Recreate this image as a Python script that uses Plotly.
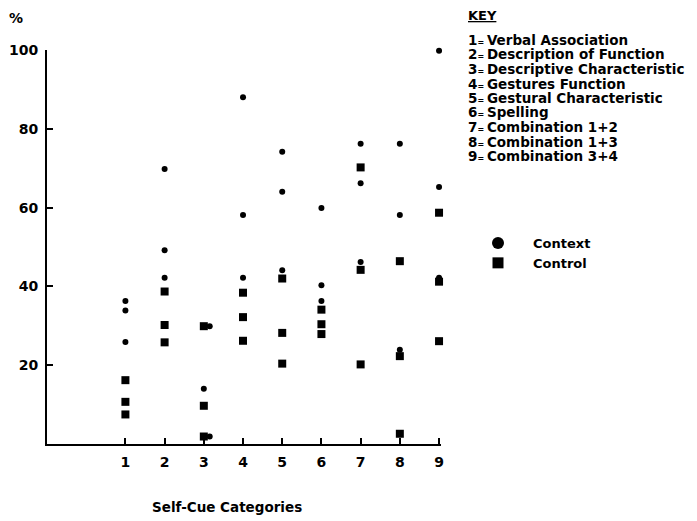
import plotly.graph_objects as go

# ---- data ----
categories = [1, 2, 3, 4, 5, 6, 7, 8, 9]
context_x = [1, 1, 1, 2, 2, 2, 3.15, 3, 3.15, 4, 4, 4, 5, 5, 5, 6, 6, 6, 7, 7, 7, 8, 8, 8, 9, 9, 9]
context_y = [36.3, 33.9, 25.9, 69.8, 49.2, 42.2, 29.9, 14.0, 1.9, 88.0, 58.1, 42.2,
             74.2, 64.0, 44.1, 59.9, 40.3, 36.3, 76.2, 66.2, 46.2, 76.2, 58.1, 23.9,
             99.8, 65.2, 42.2]
control_x = [1, 1, 1, 2, 2, 2, 3, 3, 3, 4, 4, 4, 5, 5, 5, 6, 6, 6, 7, 7, 7, 8, 8, 8, 9, 9, 9]
control_y = [16.2, 10.7, 7.5, 38.7, 30.2, 25.8, 29.9, 9.7, 1.9, 38.4, 32.2, 26.2,
             42.0, 28.2, 20.4, 34.1, 30.4, 27.9, 70.2, 44.2, 20.2, 46.4, 22.3, 2.6,
             58.7, 41.2, 26.1]
y_ticks = [20, 40, 60, 80, 100]
key_labels = ["Verbal Association", "Description of Function", "Descriptive Characteristic",
              "Gestures Function", "Gestural Characteristic", "Spelling",
              "Combination 1+2", "Combination 1+3", "Combination 3+4"]
series_names = ["Context", "Control"]

FONT = "DejaVu Sans"
PW = 394.0  # plot width/height in px
# page body has an 8px margin; the figure is sized so the picture matches
W, H = 689, 513
L, T = 39, 42
R, B = W - (L + 394), H - (T + 394)

def px_x(x):  # picture px -> paper
    return (x - 47) / PW

def px_y(y):
    return (444 - y) / PW

fig = go.Figure()
fig.add_trace(go.Scatter(x=context_x, y=context_y, mode="markers", showlegend=False,
                         marker=dict(symbol="circle", size=6, color="black"), cliponaxis=False))
fig.add_trace(go.Scatter(x=control_x, y=control_y, mode="markers", showlegend=False,
                         marker=dict(symbol="square", size=8, color="black"), cliponaxis=False))
# legend entries
fig.add_trace(go.Scatter(x=[None], y=[None], mode="markers", name=series_names[0],
                         marker=dict(symbol="circle", size=12, color="black")))
fig.add_trace(go.Scatter(x=[None], y=[None], mode="markers", name=series_names[1],
                         marker=dict(symbol="square", size=11, color="black")))

ann = []
ann.append(dict(text="<u>KEY</u>", xref="paper", yref="paper", x=px_x(466), y=px_y(15),
                xanchor="left", yanchor="middle", showarrow=False,
                font=dict(family=FONT, size=13, color="black", weight="bold")))
for i, lab in enumerate(key_labels):
    ann.append(dict(text=f"{categories[i]}<span style='font-size:8px'>= </span>{lab}",
                    xref="paper", yref="paper", x=px_x(466), y=px_y(40 + 14.5 * i),
                    xanchor="left", yanchor="middle", showarrow=False,
                    font=dict(family=FONT, size=13.5, color="black", weight="bold")))
ann.append(dict(text="%", xref="paper", yref="paper", x=px_x(16), y=px_y(18),
                xanchor="center", yanchor="middle", showarrow=False,
                font=dict(family=FONT, size=14, color="black", weight="bold")))
ann.append(dict(text="Self-Cue Categories", xref="paper", yref="paper", x=px_x(227), y=px_y(507),
                xanchor="center", yanchor="middle", showarrow=False,
                font=dict(family=FONT, size=13.5, color="black", weight="bold")))

fig.update_layout(
    width=W, height=H,
    margin=dict(l=L, r=R, t=T, b=B),
    paper_bgcolor="white", plot_bgcolor="white",
    annotations=ann,
    legend=dict(x=px_x(463), y=px_y(228), xanchor="left", yanchor="top",
                font=dict(family=FONT, size=13, color="black", weight="bold"),
                bgcolor="rgba(0,0,0,0)", itemwidth=60),
    xaxis=dict(range=[-1, 9.05], tickvals=categories, ticktext=[str(c) for c in categories],
               automargin=False,
               showgrid=False, zeroline=False, showline=True, linecolor="black", linewidth=2,
               ticks="inside", ticklen=6, tickwidth=2, tickcolor="black",
               ticklabelstandoff=4,
               tickfont=dict(family=FONT, size=14, color="black", weight="bold")),
    yaxis=dict(range=[0, 100], tickvals=y_ticks, showgrid=False, zeroline=False,
               automargin=False,
               showline=True, linecolor="black", linewidth=2,
               ticks="inside", ticklen=6, tickwidth=2, tickcolor="black",
               ticklabelstandoff=4,
               tickfont=dict(family=FONT, size=14, color="black", weight="bold")),
)

fig.write_html("out.html")
